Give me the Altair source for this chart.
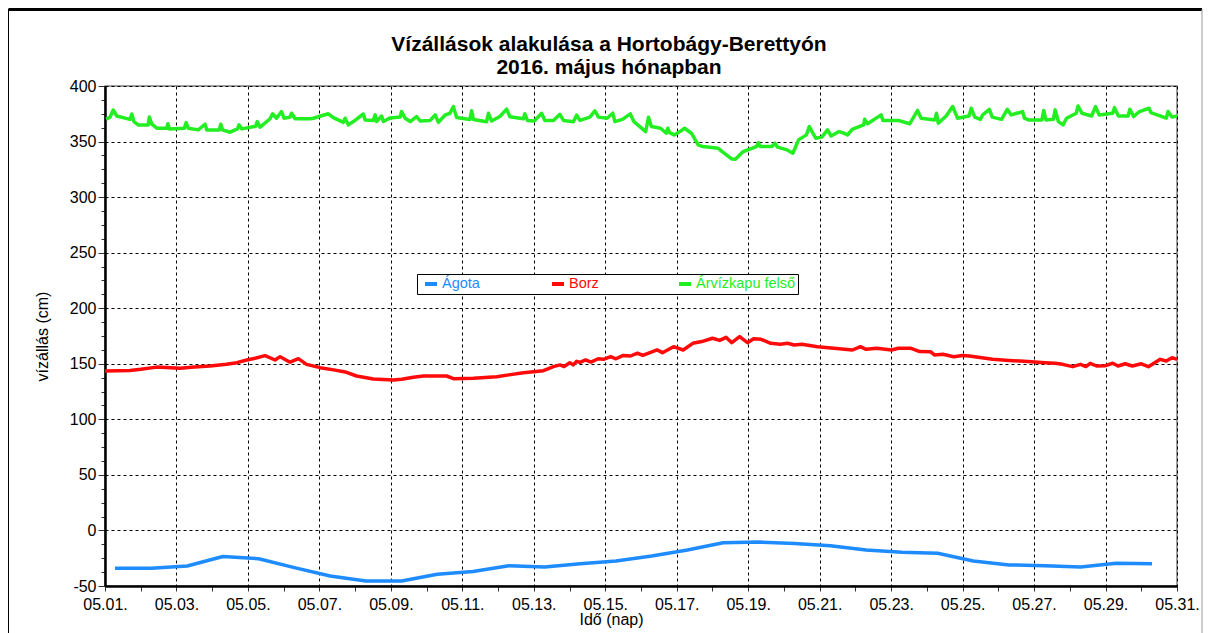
import altair as alt
import pandas as pd

SERIES = ["Ágota", "Borz", "Árvízkapu felső"]
COLORS = ["#1E8CFF", "#FF0A0A", "#22EE22"]

TITLE = ["Vízállások alakulása a Hortobágy-Berettyón", "2016. május hónapban"]
Y_TITLE = "vízállás (cm)"
X_TITLE = "Idő (nap)"

# day of May (fractional) and water level (cm)
agota_day = [1.28, 2.3, 3.3, 4.3, 5.3, 6.3, 7.3, 8.3, 9.3, 10.3, 11.3, 12.3, 13.3, 14.3, 15.3,
             16.3, 17.3, 18.3, 19.3, 20.3, 21.3, 22.3, 23.3, 24.3, 25.3, 26.3, 27.3, 28.3, 29.3, 30.3]
agota_cm = [-34, -34, -32, -23.5, -25.5, -33.5, -41, -45.5, -45.5, -39.5, -37, -31.7, -33, -30, -27.5,
            -23, -17.6, -11, -10.4, -11.8, -13.7, -17.5, -19.7, -20.6, -27.5, -31, -31.7, -33, -29.6, -29.9]

borz_day = [1.0, 1.7, 2.0, 2.45, 3.1, 3.5, 3.94, 4.4, 4.69, 4.97, 5.2, 5.48, 5.76, 5.9, 6.18, 6.41,
            6.64, 7.02, 7.4, 7.76, 8.04, 8.51, 9.07, 9.3, 9.63, 9.91, 10.56, 10.75, 11.31, 11.96,
            12.3, 12.71, 13.27, 13.55, 13.73, 13.85, 14.01, 14.1, 14.2, 14.29, 14.45, 14.6, 14.8,
            14.95, 15.15, 15.3, 15.5, 15.71, 15.9, 16.05, 16.25, 16.45, 16.6, 16.91, 17.18, 17.45,
            17.7, 18.0, 18.2, 18.38, 18.54, 18.76, 18.98, 19.15, 19.36, 19.63, 19.9, 20.1, 20.29,
            20.5, 20.94, 21.4, 21.92, 22.14, 22.3, 22.6, 23.01, 23.2, 23.56, 23.8, 24.1, 24.21,
            24.45, 24.75, 25.0, 25.19, 25.84, 26.3, 26.93, 27.3, 27.59, 27.8, 28.08, 28.3, 28.45,
            28.57, 28.75, 29.0, 29.2, 29.35, 29.55, 29.75, 30.0, 30.2, 30.53, 30.7, 30.86, 31.0]
borz_cm = [143.5, 144, 145, 147, 146, 147, 148, 149.5, 151, 153.4, 155, 157.3, 153.4, 156.4, 151.4, 154.6,
           149.5, 146.5, 144.5, 142.3, 139, 136.3, 135.4, 136, 137.8, 139, 139, 136.6, 137, 138.4,
           140, 142, 143.8, 147.4, 149, 147.5, 151, 149, 152.2, 151.3, 153.5, 151.5, 154.5,
           154, 156.5, 154.5, 157.5, 157, 159.5, 157.5, 160, 162.5, 160, 165.4, 162.4, 168.4,
           170, 173, 171, 173.8, 169, 174.4, 169, 172.5, 172, 168.4, 167.5, 168.5, 166.9,
           167.5, 165.4, 164, 162.4, 165.4, 163, 164, 162.4, 164, 163.9, 161, 160.9, 158,
           158.5, 156.4, 157.5, 157, 154, 153, 151.8, 151, 150.4, 149.5, 147.4, 149.5, 147.5,
           150.4, 148, 148.3, 150.5, 148, 150, 148, 150, 147.4, 154, 152.5, 155.5, 154]

arviz_day = [1.03, 1.14, 1.23, 1.33, 1.70, 1.75, 1.81, 1.93, 2.21, 2.24, 2.31, 2.45, 2.73, 2.76, 2.80,
             3.22, 3.27, 3.33, 3.61, 3.80, 3.85, 4.20, 4.24, 4.29, 4.50, 4.71, 4.75, 4.83, 5.22, 5.26,
             5.34, 5.62, 5.69, 5.80, 5.94, 6.01, 6.18, 6.22, 6.32, 6.74, 6.83, 7.25, 7.39, 7.67, 7.72,
             7.81, 7.95, 8.23, 8.28, 8.51, 8.56, 8.60, 8.74, 8.79, 8.98, 9.26, 9.30, 9.40, 9.54, 9.72,
             9.82, 10.10, 10.24, 10.33, 10.52, 10.65, 10.75, 10.84, 11.21, 11.26, 11.31, 11.68, 11.73,
             11.82, 12.05, 12.24, 12.33, 12.71, 12.75, 12.82, 13.01, 13.22, 13.31, 13.55, 13.73, 13.83,
             14.11, 14.20, 14.29, 14.57, 14.71, 14.81, 15.05, 15.21, 15.27, 15.48, 15.70, 15.80, 15.91,
             16.13, 16.21, 16.29, 16.55, 16.71, 16.75, 16.80, 16.93, 17.09, 17.22, 17.41, 17.60, 17.73,
             18.16, 18.27, 18.54, 18.64, 18.86, 19.23, 19.29, 19.34, 19.66, 19.75, 19.82, 20.09, 20.25,
             20.41, 20.63, 20.71, 20.89, 21.06, 21.22, 21.32, 21.54, 21.64, 21.78, 21.91, 22.23, 22.26,
             22.34, 22.72, 22.77, 23.20, 23.52, 23.74, 23.84, 24.22, 24.27, 24.32, 24.54, 24.72, 24.86,
             25.18, 25.24, 25.34, 25.50, 25.56, 25.75, 25.83, 26.09, 26.25, 26.36, 26.52, 26.68, 26.73,
             26.84, 27.22, 27.27, 27.33, 27.54, 27.59, 27.68, 27.81, 27.91, 28.18, 28.23, 28.34, 28.61,
             28.72, 28.82, 29.20, 29.25, 29.36, 29.63, 29.68, 29.79, 29.95, 30.22, 30.27, 30.70, 30.75,
             30.86, 31.0]
arviz_cm = [370, 371.9, 378.4, 373, 370, 374.8, 367.9, 365, 365, 372.2, 365.6, 362, 362, 366, 361.4,
            362, 367, 362, 360.5, 365.6, 360.5, 360.5, 365.6, 360.5, 358.4, 361.4, 365, 361.4, 363.8, 368,
            363, 370.5, 375, 371, 377, 371, 372, 375.5, 370.5, 370.5, 371, 375, 371.5, 367.3, 371,
            365, 368, 374.8, 369.5, 369, 374, 368, 373, 368, 371.3, 372, 377, 371, 368, 372.5,
            368.5, 369, 374, 367.3, 373.9, 375.4, 381.4, 371.7, 369.9, 377.7, 369.9, 367.8, 375.4,
            368.5, 372.6, 379.2, 372.3, 370.5, 375, 369, 368.4, 375.4, 369, 369, 374.5, 369,
            367.8, 373.8, 369, 372, 377.7, 372, 371, 375.5, 368, 370, 374.9, 368, 365,
            359, 371.9, 363.5, 362, 357.5, 362, 358, 356, 359, 362, 357.5, 347, 345.5,
            344, 341, 334.4, 334, 341, 345.5, 349, 345.5, 345.5, 348.5, 345, 342.5, 339.5,
            351.5, 356, 363.5, 353, 354, 360.5, 355, 359, 358, 356, 361, 365, 370,
            366, 374, 369, 369, 366, 378, 371, 369.5, 375.5, 366.5, 373, 381.5, 371,
            373, 380, 372, 370, 374, 379, 372, 370, 379, 374, 375.5, 377, 371,
            369.5, 369.5, 378, 369.5, 370, 378.5, 368, 365, 371, 375.5, 382, 375.5, 373,
            381.5, 374, 375.5, 380.5, 373, 373, 379, 372.5, 377, 380, 376, 371, 377,
            372, 373]

Y_TICKS = [-50 + 12.5 * i for i in range(37)]
X_DAYS = list(range(1, 32))


def frame(name, days, vals):
    t = pd.Timestamp("2016-05-01") + pd.to_timedelta([d - 1 for d in days], unit="D")
    return pd.DataFrame({"t": list(t.strftime("%Y-%m-%dT%H:%M:%S")), "cm": vals, "series": name})


df = pd.concat([
    frame(SERIES[0], agota_day, agota_cm),
    frame(SERIES[1], borz_day, borz_cm),
    frame(SERIES[2], arviz_day, arviz_cm),
], ignore_index=True)

FONT = "Liberation Sans"
label_color_expr = " : ".join(
    [f"datum.label === '{s}' ? '{c}'" for s, c in zip(SERIES[:-1], COLORS[:-1])] + [f"'{COLORS[-1]}'"]
)

x_major = "date(datum.value) % 2 === 1"
y_major = "datum.value % 50 === 0"

x_axis = alt.Axis(
    values=[alt.DateTime(year=2016, month=5, date=d) for d in X_DAYS],
    format="%m.%d.",
    labelExpr=f"{x_major} ? datum.label : ''",
    labelFlush=False, labelOverlap=False, labelBound=False,
    labelFont=FONT, labelFontSize=16, labelColor="black", labelPadding=5,
    tickSize=5, tickColor="#333333", tickWidth=1,
    grid=True, gridColor="black", gridDash=[3, 3], gridWidth=1,
    gridOpacity={"condition": {"test": x_major, "value": 1}, "value": 0},
    domainColor="black", domainWidth=2.5,
    title=X_TITLE, titleFont=FONT, titleFontSize=16, titleFontWeight="normal", titleColor="black",
    titleX=506, titleY=38, titleBaseline="alphabetic", titleAlign="center",
)

y_axis = alt.Axis(
    values=Y_TICKS,
    labelExpr=f"{y_major} ? ('' + datum.value) : ''",
    labelOverlap=False, labelFlush=False,
    labelFont=FONT, labelFontSize=16, labelColor="black", labelPadding=2,
    tickSize={"condition": {"test": y_major, "value": 7}, "value": 4},
    tickColor="#333333", tickWidth=1,
    grid=True, gridColor="black", gridDash=[3, 3], gridWidth=1,
    gridOpacity={"condition": {"test": y_major, "value": 1}, "value": 0},
    domainColor="black", domainWidth=2.5,
    title=Y_TITLE, titleFont=FONT, titleFontSize=16, titleFontWeight="normal", titleColor="black",
    titleX=-63, titleY=250, titleAngle=270, titleBaseline="middle", titleAlign="center",
)

legend = alt.Legend(
    title=None, orient="none", legendX=312, legendY=188, direction="horizontal",
    columns=3, gridAlign="all", columnPadding=2, padding=2, symbolOffset=4,
    symbolType="stroke", symbolSize=144, symbolStrokeWidth=4,
    labelFont=FONT, labelFontSize=14.5, labelOffset=3,
    labelColor={"expr": label_color_expr},
    strokeColor="black", fillColor="white",
)

lines = alt.Chart(df).mark_line(strokeWidth=3.5, strokeJoin="round").encode(
    x=alt.X("t:T", axis=x_axis,
            scale=alt.Scale(domain=[alt.DateTime(year=2016, month=5, date=1),
                                    alt.DateTime(year=2016, month=5, date=31)], nice=False)),
    y=alt.Y("cm:Q", axis=y_axis, scale=alt.Scale(domain=[-50, 400], nice=False, zero=False)),
    color=alt.Color("series:N", sort=SERIES, scale=alt.Scale(domain=SERIES, range=COLORS), legend=legend),
)

one = pd.DataFrame({"k": [0]})
top_line = alt.Chart(one).mark_rule(color="black", strokeWidth=3).encode(
    x=alt.value(-96.5), x2=alt.value(1097), y=alt.value(-76.5))
left_line = alt.Chart(one).mark_rule(color="black", strokeWidth=1).encode(
    x=alt.value(-96.5), y=alt.value(-77), y2=alt.value(547))
right_line = alt.Chart(one).mark_rule(color="#999999", strokeWidth=1).encode(
    x=alt.value(1097), y=alt.value(-77), y2=alt.value(547))

chart = alt.layer(lines, top_line, left_line, right_line).properties(
    width=1072, height=500,
    autosize=alt.AutoSizeParams(type="none"),
    padding={"left": 97, "top": 78, "right": 26, "bottom": 47},
    title=alt.TitleParams(text=TITLE, font=FONT, fontSize=21, fontWeight="bold", color="black",
                          anchor="middle", frame="group", dx=-32, dy=72, offset=2, lineHeight=23),
).configure_view(stroke="#808080", strokeWidth=1.5)

chart.save("out.html", embed_options={"renderer": "svg", "actions": False})
